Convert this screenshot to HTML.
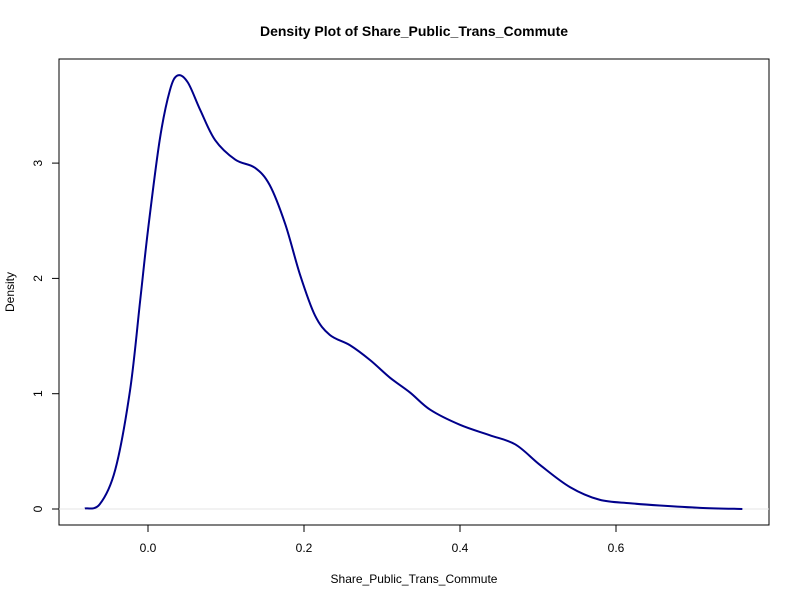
<!DOCTYPE html>
<html><head><meta charset="utf-8"><style>
html,body{margin:0;padding:0;background:#fff;}
svg text{font-family:"Liberation Sans",Arial,sans-serif;fill:#000;}
</style></head><body>
<svg id="chart" width="800" height="600" xmlns="http://www.w3.org/2000/svg">
<text x="414" y="36" text-anchor="middle" font-size="14" font-weight="bold">Density Plot of Share_Public_Trans_Commute</text>
<rect x="59" y="59" width="710" height="466" fill="none" stroke="#000"/>
<g id="xaxis"></g>
<g id="yaxis"></g>
<line id="zero" stroke="#e6e6e6"/>
<path id="curve" fill="none" stroke="#00008b" stroke-width="2"/>
<text x="414" y="583" text-anchor="middle" font-size="12">Share_Public_Trans_Commute</text>
<text transform="translate(14,292) rotate(-90)" text-anchor="middle" font-size="12">Density</text>
</svg>
<script>
const xs=[-0.081,-0.062,-0.042,-0.023,-0.010,0.0,0.015,0.028,0.038,0.051,0.067,0.086,0.112,0.137,0.156,0.176,0.195,0.214,0.233,0.259,0.285,0.310,0.336,0.362,0.400,0.438,0.471,0.503,0.541,0.579,0.618,0.656,0.708,0.762];
const ys=[0.005,0.04,0.34,1.03,1.81,2.42,3.2,3.63,3.76,3.70,3.46,3.2,3.03,2.96,2.81,2.47,2.03,1.68,1.51,1.42,1.29,1.14,1.01,0.86,0.73,0.64,0.56,0.38,0.19,0.08,0.05,0.03,0.01,0.0];
const xTicks=[0.0,0.2,0.4,0.6];
const xTickLabels=["0.0","0.2","0.4","0.6"];
const yTicks=[0,1,2,3];
const yTickLabels=["0","1","2","3"];
const X=v=>148+v*780, Y=v=>509-v*115.3;
const NS="http://www.w3.org/2000/svg";
function mk(t,a,p){const e=document.createElementNS(NS,t);for(const k in a)e.setAttribute(k,a[k]);p.appendChild(e);return e;}
const xa=document.getElementById('xaxis');
mk('line',{x1:X(xTicks[0]),x2:X(xTicks[xTicks.length-1]),y1:525,y2:525,stroke:'#000'},xa);
xTicks.forEach((t,i)=>{
 const l=mk('line',{x1:X(t),x2:X(t),y1:525,y2:532,stroke:'#000'},xa);
 
 
 const tx=mk('text',{x:X(t),y:552,'text-anchor':'middle','font-size':12},xa);tx.textContent=xTickLabels[i];
 
 
});
const ya=document.getElementById('yaxis');
mk('line',{x1:59,x2:59,y1:Y(yTicks[0]),y2:Y(yTicks[yTicks.length-1]),stroke:'#000'},ya);
yTicks.forEach((t,i)=>{
 const l=mk('line',{x1:52,x2:59,y1:Y(t),y2:Y(t),stroke:'#000'},ya);
 
 
 const tx=mk('text',{transform:`translate(42,${Y(t)}) rotate(-90)`,'text-anchor':'middle','font-size':12},ya);tx.textContent=yTickLabels[i];
 
 
});
const z=document.getElementById('zero');
z.setAttribute('x1',59);z.setAttribute('x2',769);z.setAttribute('y1',Y(0));z.setAttribute('y2',Y(0));
const P=xs.map((x,i)=>[X(x),Y(ys[i])]);
let d=`M${P[0][0]},${P[0][1]}`;
for(let i=0;i<P.length-1;i++){
 const p0=P[Math.max(0,i-1)],p1=P[i],p2=P[i+1],p3=P[Math.min(P.length-1,i+2)];
 const c1=[p1[0]+(p2[0]-p0[0])/6,p1[1]+(p2[1]-p0[1])/6];
 const c2=[p2[0]-(p3[0]-p1[0])/6,p2[1]-(p3[1]-p1[1])/6];
 d+=` C${c1[0]},${c1[1]} ${c2[0]},${c2[1]} ${p2[0]},${p2[1]}`;
}
document.getElementById('curve').setAttribute('d',d);
</script>
</body></html>
